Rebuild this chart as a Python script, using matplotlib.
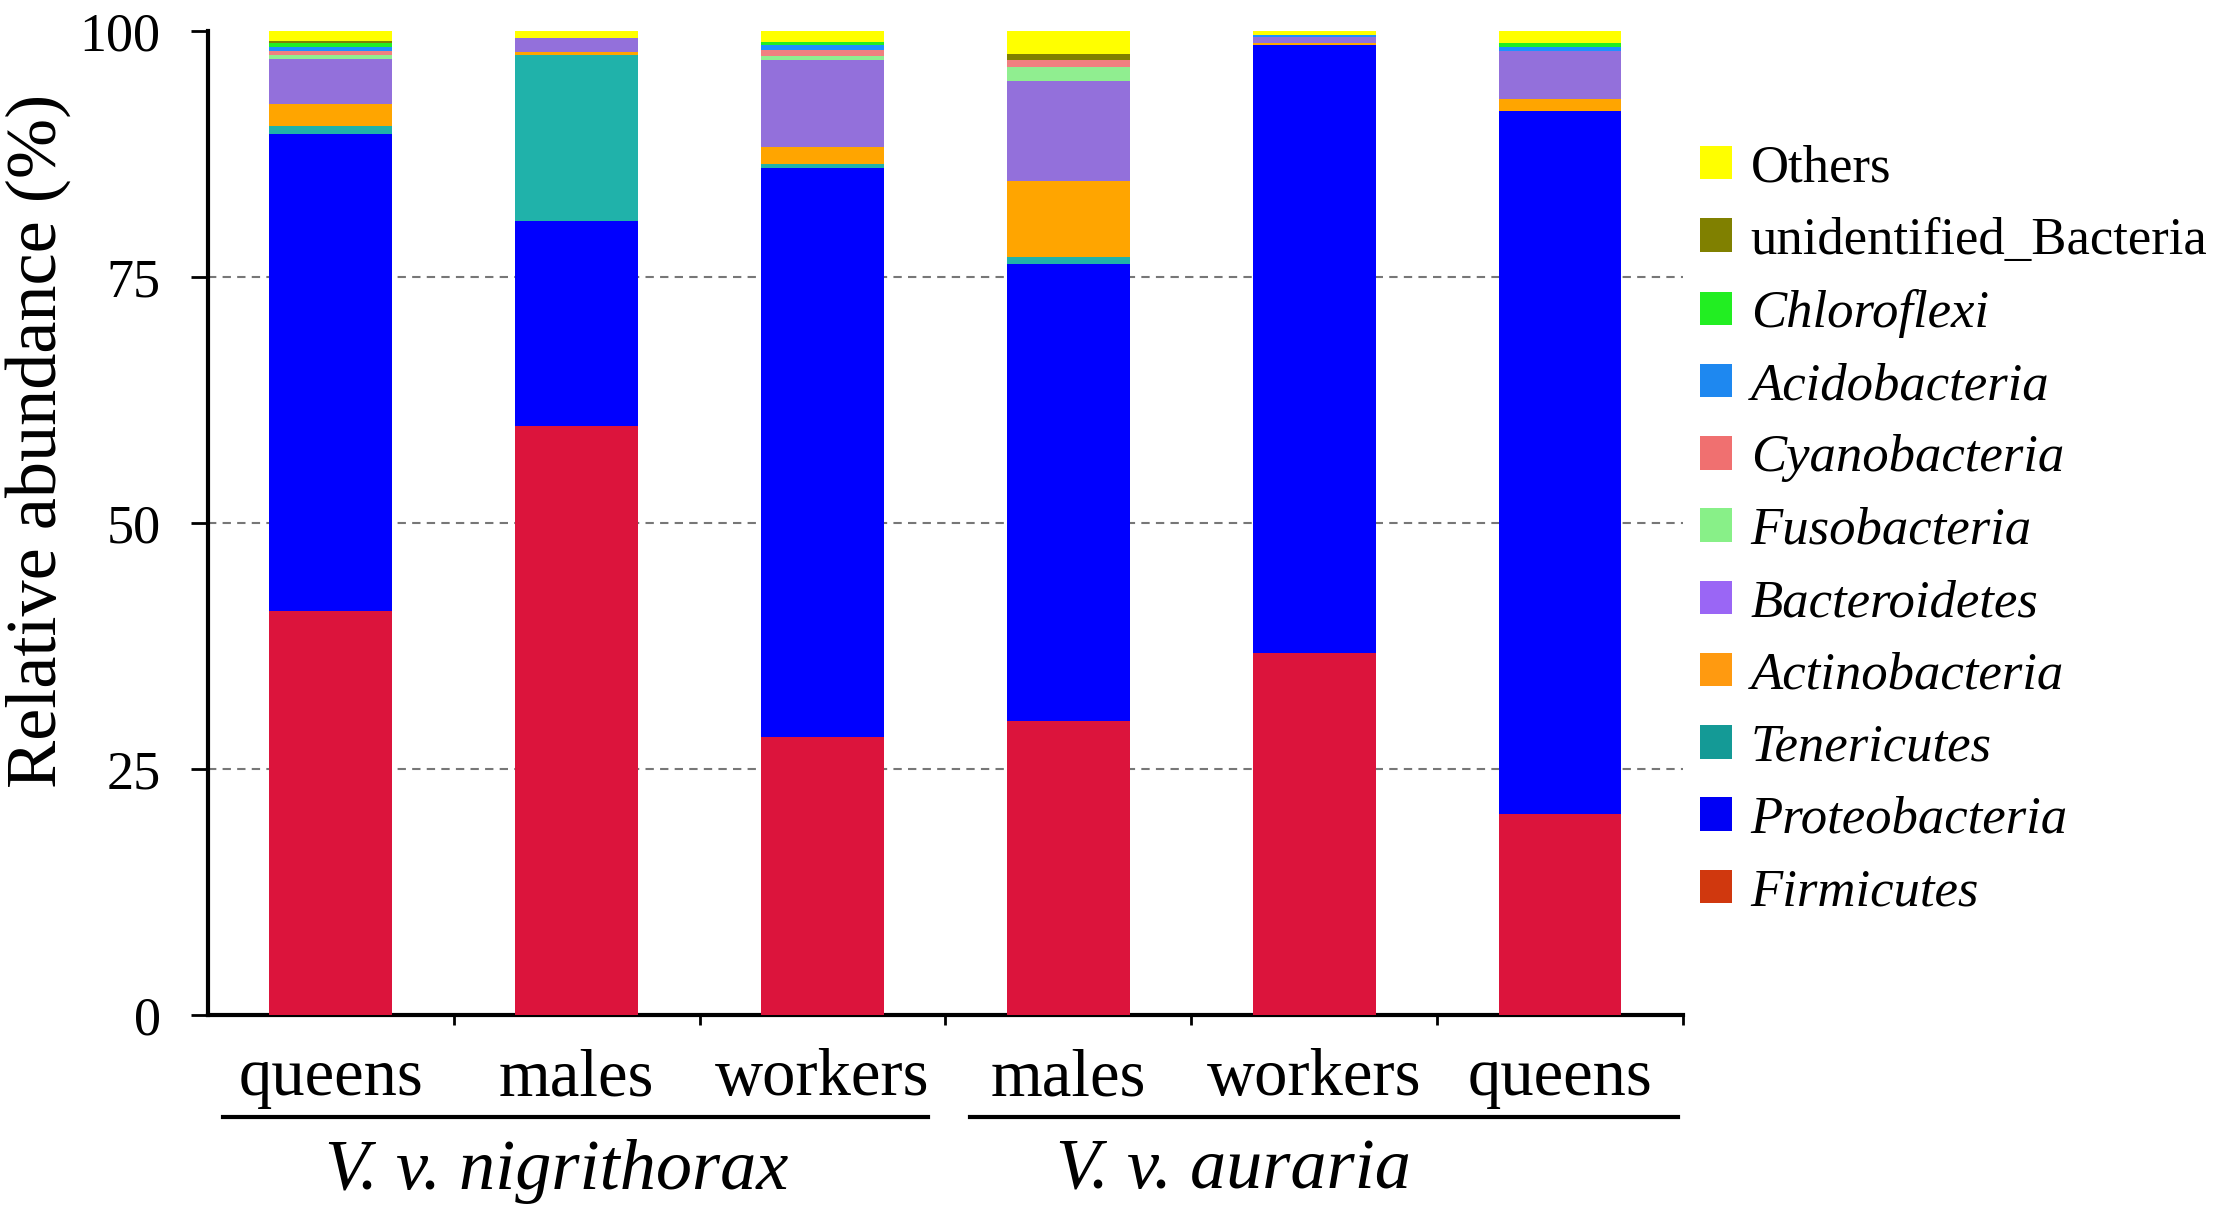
import matplotlib
matplotlib.use("Agg")
import matplotlib.pyplot as plt
from matplotlib.patches import Patch
import numpy as np

plt.rcParams['font.family'] = ['Liberation Serif', 'DejaVu Serif']

samples = ["queens", "males", "workers", "males", "workers", "queens"]
groups = ["V. v. nigrithorax", "V. v. auraria"]

phyla = ["Firmicutes", "Proteobacteria", "Tenericutes", "Actinobacteria",
         "Bacteroidetes", "Fusobacteria", "Cyanobacteria", "Acidobacteria",
         "Chloroflexi", "unidentified_Bacteria", "Others"]

Firmicutes            = [41.1, 59.9, 28.3, 29.9, 36.8, 20.4]
Proteobacteria        = [48.4, 20.8, 57.8, 46.4, 61.8, 71.5]
Tenericutes           = [0.8, 16.9, 0.4, 0.7, 0.0, 0.0]
Actinobacteria        = [2.3, 0.3, 1.7, 7.8, 0.2, 1.2]
Bacteroidetes         = [4.6, 1.4, 8.9, 10.1, 0.6, 4.9]
Fusobacteria          = [0.4, 0.0, 0.4, 1.4, 0.0, 0.0]
Cyanobacteria         = [0.4, 0.0, 0.6, 0.8, 0.0, 0.0]
Acidobacteria         = [0.4, 0.0, 0.5, 0.0, 0.2, 0.4]
Chloroflexi           = [0.4, 0.0, 0.3, 0.0, 0.0, 0.4]
unidentified_Bacteria = [0.2, 0.0, 0.0, 0.6, 0.0, 0.0]
Others                = [1.0, 0.7, 1.1, 2.3, 0.4, 1.2]

values = [Firmicutes, Proteobacteria, Tenericutes, Actinobacteria, Bacteroidetes,
          Fusobacteria, Cyanobacteria, Acidobacteria, Chloroflexi,
          unidentified_Bacteria, Others]

bar_colors = ["#DC143C", "#0000FF", "#20B2AA", "#FFA500", "#9370DB",
              "#90EE90", "#F08080", "#1E90FF", "#22EE22", "#808000", "#FFFF00"]
legend_colors = ["#D0380E", "#0000F5", "#149A96", "#FF9A10", "#9A66F5",
                 "#88F088", "#F07070", "#1E88F0", "#22EE22", "#808000", "#FFFF00"]

fig = plt.figure(figsize=(22.17, 12.13), dpi=100)
ax = fig.add_axes([0.0938, 0.1632, 0.6653, 0.8112])

x = np.arange(len(samples))
bottom = np.zeros(len(samples))
for name, vals, col in zip(phyla, values, bar_colors):
    v = np.array(vals)
    ax.bar(x, v, width=0.5, bottom=bottom, color=col, label=name, zorder=3,
           linewidth=0)
    bottom += v

ax.set_xlim(-0.5, 5.5)
ax.set_ylim(0, 100)

for yv in [25, 50, 75]:
    ax.axhline(yv, color="#777777", linestyle=(0, (4, 3)), linewidth=1.5, zorder=1)

for s in ["top", "right"]:
    ax.spines[s].set_visible(False)
ax.spines["left"].set_linewidth(3)
ax.spines["bottom"].set_linewidth(3)

ax.set_yticks([0, 25, 50, 75, 100])
ax.tick_params(axis="y", direction="out", length=12, width=2, labelsize=39, pad=22)

ax.set_xticks(x)
ax.set_xticklabels(samples, fontsize=48)
ax.tick_params(axis="x", which="major", length=0, pad=24)
ax.set_xticks(np.arange(0.5, 6.0, 1.0), minor=True)
ax.tick_params(axis="x", which="minor", direction="out", length=7, width=2)

ax.set_ylabel("Relative abundance (%)", fontsize=52)
ax.yaxis.set_label_coords(-0.093, 0.583)

trans = ax.get_xaxis_transform()
line_y = -0.1037
ax.plot([-0.44, 2.43], [line_y, line_y], color="black", linewidth=3,
        transform=trans, clip_on=False)
ax.plot([2.60, 5.48], [line_y, line_y], color="black", linewidth=3,
        transform=trans, clip_on=False)
ax.text(0.92, -0.1585, groups[0], transform=trans, ha="center", va="center",
        fontsize=52, fontstyle="italic")
ax.text(3.67, -0.1585, groups[1], transform=trans, ha="center", va="center",
        fontsize=52, fontstyle="italic")

handles = [Patch(facecolor=c, edgecolor="none") for c in legend_colors[::-1]]
labels = phyla[::-1]
leg = fig.legend(handles, labels, loc="upper left", bbox_to_anchor=(0.767, 0.881),
                 frameon=False, fontsize=38, handlelength=0.6, handleheight=0.6,
                 handletextpad=0.35, labelspacing=0.46, borderpad=0, borderaxespad=0)
for t in leg.get_texts():
    if t.get_text() not in ("Others", "unidentified_Bacteria"):
        t.set_fontstyle("italic")

fig.savefig("out.png", dpi=100)
